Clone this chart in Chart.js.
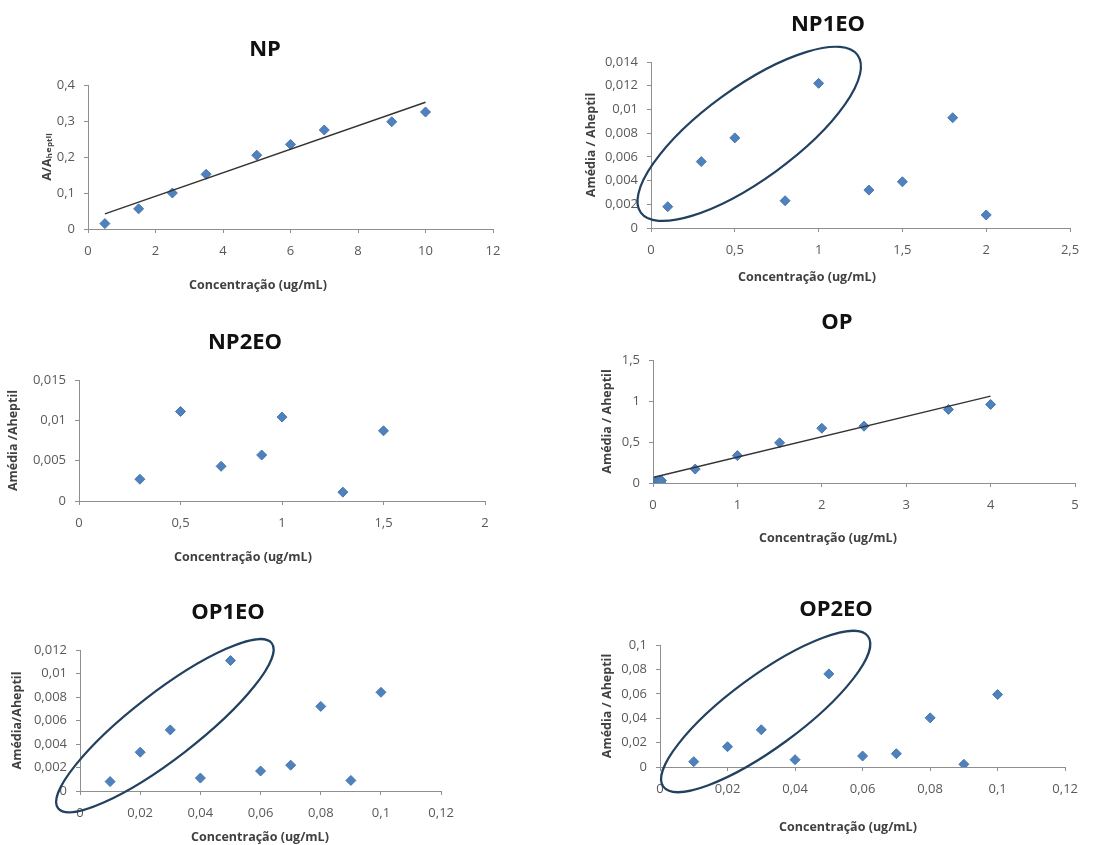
<!DOCTYPE html>
<html>
<head>
<meta charset="utf-8">
<script src="https://cdn.jsdelivr.net/npm/chart.js@4.4.1/dist/chart.umd.min.js"></script>
<style>
  html, body { margin: 0; padding: 0; background: #ffffff; }
  body { width: 1105px; height: 845px; position: relative; overflow: hidden; }
  canvas { position: absolute; }
</style>
</head>
<body>
<script>
// ---- NP ----
const npConc = [0.5, 1.5, 2.5, 3.5, 5, 6, 7, 9, 10];
const npRatio = [0.015, 0.056, 0.100, 0.152, 0.205, 0.235, 0.275, 0.298, 0.325];
const npTrendConc = [0.5, 10];
const npTrendRatio = [0.042, 0.352];
const npXTicks = [0, 2, 4, 6, 8, 10, 12];
const npYTicks = [0, 0.1, 0.2, 0.3, 0.4];

// ---- NP1EO ----
const np1eoConc = [0.1, 0.3, 0.5, 0.8, 1.0, 1.3, 1.5, 1.8, 2.0];
const np1eoRatio = [0.0018, 0.0056, 0.0076, 0.0023, 0.0122, 0.0032, 0.0039, 0.0093, 0.0011];
const np1eoXTicks = [0, 0.5, 1, 1.5, 2, 2.5];
const np1eoYTicks = [0, 0.002, 0.004, 0.006, 0.008, 0.01, 0.012, 0.014];

// ---- NP2EO ----
const np2eoConc = [0.3, 0.5, 0.7, 0.9, 1.0, 1.3, 1.5];
const np2eoRatio = [0.0027, 0.0111, 0.0043, 0.0057, 0.0104, 0.0011, 0.0087];
const np2eoXTicks = [0, 0.5, 1, 1.5, 2];
const np2eoYTicks = [0, 0.005, 0.01, 0.015];

// ---- OP ----
const opConc = [0.01, 0.02, 0.03, 0.04, 0.05, 0.06, 0.07, 0.08, 0.09, 0.1, 0.5, 1, 1.5, 2, 2.5, 3.5, 4];
const opRatio = [0.004, 0.012, 0.018, 0.008, 0.022, 0.010, 0.014, 0.028, 0.006, 0.030, 0.170, 0.334, 0.490, 0.668, 0.693, 0.897, 0.958];
const opTrendConc = [0.01, 4];
const opTrendRatio = [0.07, 1.06];
const opXTicks = [0, 1, 2, 3, 4, 5];
const opYTicks = [0, 0.5, 1, 1.5];

// ---- OP1EO ----
const op1eoConc = [0.01, 0.02, 0.03, 0.04, 0.05, 0.06, 0.07, 0.08, 0.09, 0.1];
const op1eoRatio = [0.0008, 0.0033, 0.0052, 0.0011, 0.0111, 0.0017, 0.0022, 0.0072, 0.0009, 0.0084];
const op1eoXTicks = [0, 0.02, 0.04, 0.06, 0.08, 0.1, 0.12];
const op1eoYTicks = [0, 0.002, 0.004, 0.006, 0.008, 0.01, 0.012];

// ---- OP2EO ----
const op2eoConc = [0.01, 0.02, 0.03, 0.04, 0.05, 0.06, 0.07, 0.08, 0.09, 0.1];
const op2eoRatio = [0.0044, 0.0166, 0.0305, 0.0060, 0.0763, 0.0090, 0.0109, 0.0403, 0.0022, 0.0594];
const op2eoXTicks = [0, 0.02, 0.04, 0.06, 0.08, 0.1, 0.12];
const op2eoYTicks = [0, 0.02, 0.04, 0.06, 0.08, 0.1];

// Axis captions
const X_CAPTION = 'Concentração (ug/mL)';
const Y_CAPTION_RATIO = 'A/Aₕₑₚₜᵢₗ';
const Y_CAPTION_MEAN = 'Amédia / Aheptil';

// Styling
const FONT = "'Open Sans', 'DejaVu Sans', sans-serif";
const TITLE_SIZE = 22;
const AXIS_TITLE_SIZE = 12.5;
const TICK_SIZE = 13;
const MARKER = '#4F81BD';
const AXIS_COLOR = '#8f8f8f';
const TREND_COLOR = '#333333';
const RING_COLOR = '#22405f';

Chart.defaults.font.family = FONT;
Chart.defaults.color = '#595959';

// Circled groups: centre in data units, semi-axes in px, tilt in degrees
const panels = [
  { title: 'NP', xs: npConc, ys: npRatio, trend: [npTrendConc, npTrendRatio],
    xTicks: npXTicks, yTicks: npYTicks, yTitle: Y_CAPTION_RATIO, ring: null,
    box: { l: 88, t: 85, r: 493, b: 229 }, titleAt: { x: 265, y: 50 }, yTitleX: 47, xTitleAt: { x: 258, y: 285 } },
  { title: 'NP1EO', xs: np1eoConc, ys: np1eoRatio, trend: null,
    xTicks: np1eoXTicks, yTicks: np1eoYTicks, yTitle: Y_CAPTION_MEAN,
    ring: { cx: 0.586, cy: 0.00794, a: 134, b: 46, angle: 36 },
    box: { l: 651, t: 62, r: 1070, b: 228 }, titleAt: { x: 828, y: 25 }, yTitleX: 591, xTitleAt: { x: 807, y: 277 } },
  { title: 'NP2EO', xs: np2eoConc, ys: np2eoRatio, trend: null,
    xTicks: np2eoXTicks, yTicks: np2eoYTicks, yTitle: 'Amédia /Aheptil', ring: null,
    box: { l: 79, t: 380, r: 485, b: 501 }, titleAt: { x: 245, y: 343 }, yTitleX: 13, xTitleAt: { x: 243, y: 557 } },
  { title: 'OP', xs: opConc, ys: opRatio, trend: [opTrendConc, opTrendRatio],
    xTicks: opXTicks, yTicks: opYTicks, yTitle: Y_CAPTION_MEAN, ring: null,
    box: { l: 653, t: 360, r: 1075, b: 483 }, titleAt: { x: 837, y: 323 }, yTitleX: 607, xTitleAt: { x: 828, y: 538 } },
  { title: 'OP1EO', xs: op1eoConc, ys: op1eoRatio, trend: null,
    xTicks: op1eoXTicks, yTicks: op1eoYTicks, yTitle: 'Amédia/Aheptil',
    ring: { cx: 0.0282, cy: 0.00556, a: 135, b: 33, angle: 37.7 },
    box: { l: 80, t: 650, r: 442, b: 791 }, titleAt: { x: 228, y: 613 }, yTitleX: 17, xTitleAt: { x: 260, y: 837 } },
  { title: 'OP2EO', xs: op2eoConc, ys: op2eoRatio, trend: null,
    xTicks: op2eoXTicks, yTicks: op2eoYTicks, yTitle: Y_CAPTION_MEAN,
    ring: { cx: 0.0313, cy: 0.0455, a: 127, b: 36, angle: 36.3 },
    box: { l: 660, t: 645, r: 1066, b: 767 }, titleAt: { x: 836, y: 610 }, yTitleX: 607, xTitleAt: { x: 848, y: 827 } }
];

const decimalComma = v => String(+Number(v).toFixed(6)).replace('.', ',');

// Draws the circled group and the horizontal axis caption
const overlay = {
  id: 'overlay',
  afterDatasetsDraw(chart, args, opts) {
    const ring = opts.ring;
    if (!ring) return;
    const { x, y } = chart.scales;
    const ctx = chart.ctx;
    ctx.save();
    ctx.beginPath();
    ctx.ellipse(x.getPixelForValue(ring.cx), y.getPixelForValue(ring.cy),
      ring.a, ring.b, -ring.angle * Math.PI / 180, 0, Math.PI * 2);
    ctx.strokeStyle = RING_COLOR;
    ctx.lineWidth = 2.2;
    ctx.stroke();
    ctx.restore();
  },
  afterDraw(chart, args, opts) {
    const ctx = chart.ctx;
    ctx.save();
    ctx.font = 'bold ' + AXIS_TITLE_SIZE + 'px ' + FONT;
    ctx.fillStyle = '#404040';
    ctx.textAlign = 'center';
    ctx.textBaseline = 'middle';
    ctx.fillText(opts.caption, opts.capX, opts.capY);
    ctx.restore();
  }
};

const PAD_RIGHT = 22;
const PAD_LEFT = 16;
const X_AXIS_H = 34;

panels.forEach(p => {
  const lh = TITLE_SIZE * 1.2;
  const yLh = AXIS_TITLE_SIZE * 1.2;
  const axisLeft = Math.round(2 * p.titleAt.x - p.box.r);   // keeps the title centred where wanted
  const cl = axisLeft - PAD_LEFT;
  const ct = Math.round(p.titleAt.y - lh / 2);
  const W = Math.round(p.box.r - cl + PAD_RIGHT);
  const H = Math.round(p.xTitleAt.y + 14 - ct);
  const yW = p.box.l - axisLeft;
  const titlePadBottom = p.box.t - ct - lh;
  const padBottom = H - (p.box.b - ct) - X_AXIS_H;
  const padRight = W - (p.box.r - cl);

  const canvas = document.createElement('canvas');
  canvas.width = W;
  canvas.height = H;
  canvas.style.left = cl + 'px';
  canvas.style.top = ct + 'px';
  document.body.appendChild(canvas);

  const datasets = [];
  if (p.trend) {
    datasets.push({
      data: p.trend[0].map((v, i) => ({ x: v, y: p.trend[1][i] })),
      showLine: true, pointRadius: 0, borderColor: TREND_COLOR, borderWidth: 1.4, fill: false
    });
  }
  datasets.push({
    data: p.xs.map((v, i) => ({ x: v, y: p.ys[i] })),
    pointStyle: 'rectRot', pointRadius: 5, pointBorderWidth: 1,
    backgroundColor: MARKER, borderColor: '#4877b0'
  });

  const axisCommon = {
    type: 'linear',
    border: { display: true, color: AXIS_COLOR, width: 1 },
    grid: { display: true, drawOnChartArea: false, drawTicks: true, tickLength: 4, color: AXIS_COLOR }
  };

  new Chart(canvas, {
    type: 'scatter',
    data: { datasets },
    plugins: [overlay],
    options: {
      responsive: false,
      animation: false,
      devicePixelRatio: 1,
      events: [],
      layout: { padding: { left: PAD_LEFT, top: 0, right: padRight, bottom: padBottom } },
      plugins: {
        legend: { display: false },
        tooltip: { enabled: false },
        title: {
          display: true, text: p.title, color: '#111111',
          font: { size: TITLE_SIZE, weight: 'bold', lineHeight: 1.2 },
          padding: { top: 0, bottom: titlePadBottom }
        },
        overlay: {
          ring: p.ring,
          caption: X_CAPTION,
          capX: p.xTitleAt.x - cl,
          capY: p.xTitleAt.y - ct
        }
      },
      scales: {
        x: Object.assign({}, axisCommon, {
          position: 'bottom',
          min: p.xTicks[0], max: p.xTicks[p.xTicks.length - 1],
          afterBuildTicks: s => { s.ticks = p.xTicks.map(v => ({ value: v })); },
          afterFit: s => { s.height = X_AXIS_H; },
          ticks: { autoSkip: false, maxRotation: 0, padding: 10,
            font: { size: TICK_SIZE }, callback: v => decimalComma(v) }
        }),
        y: Object.assign({}, axisCommon, {
          position: 'left',
          min: p.yTicks[0], max: p.yTicks[p.yTicks.length - 1],
          afterBuildTicks: s => { s.ticks = p.yTicks.map(v => ({ value: v })); },
          afterFit: s => { s.width = yW; },
          ticks: { padding: 9, font: { size: TICK_SIZE }, callback: v => decimalComma(v) },
          title: {
            display: true, text: p.yTitle, color: '#404040',
            font: { size: AXIS_TITLE_SIZE, weight: 'bold', lineHeight: 1.2 },
            padding: { top: p.yTitleX - axisLeft - yLh / 2, bottom: 0 }
          }
        })
      }
    }
  });
});
</script>
</body>
</html>
